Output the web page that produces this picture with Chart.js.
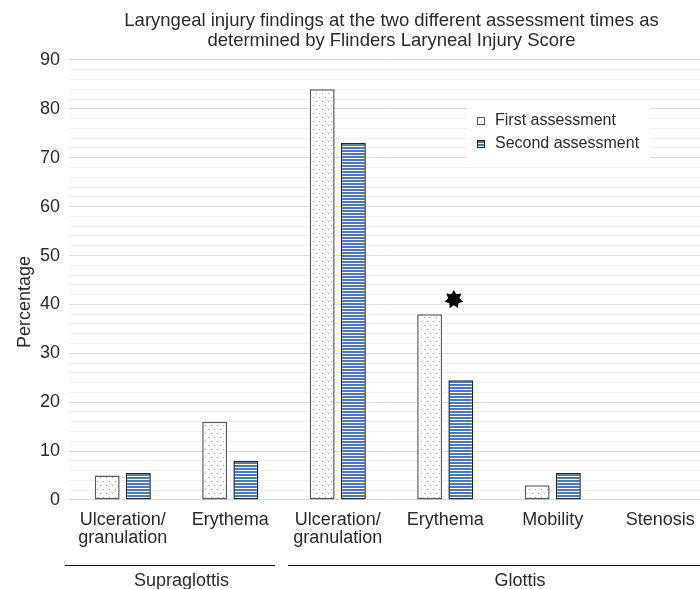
<!DOCTYPE html>
<html lang="en">
<head>
  <meta charset="UTF-8" />
  <title>Laryngeal injury findings</title>
  <script src="https://cdn.jsdelivr.net/npm/chart.js"></script>
  <style>
    html, body { margin: 0; padding: 0; background: #fff; overflow: hidden; }
    #wrap { width: 700px; height: 589px; overflow: hidden; }
    canvas { display: block; }
  </style>
</head>
<body>
  <div id="wrap"><canvas id="chart" width="714" height="589"></canvas></div>

  <script>
    // data
    const categories = [['Ulceration/', 'granulation'], 'Erythema', ['Ulceration/', 'granulation'], 'Erythema', 'Mobility', 'Stenosis'];
    const firstAssessment = [5, 16, 84, 38, 3, 0];
    const secondAssessment = [5.5, 8, 73, 24.5, 5.5, 0];
    const seriesNames = ['First assessment', 'Second assessment'];
    const groupNames = ['Supraglottis', 'Glottis'];
    const groupSpans = [[0, 1], [2, 5]];
    const starMarks = [{ x: 3.08, y: 41 }];   // x = category index (+ fraction)
    const yMax = 90;
    const yMajorStep = 10;
    const yMinorStep = 2;

    const FONT = "'Liberation Sans', Arial, Helvetica, sans-serif";
    const TEXT = '#2b2b2b';

    // fill patterns
    function makeTile(w, h, draw) {
      const c = document.createElement('canvas');
      c.width = w; c.height = h;
      draw(c.getContext('2d'));
      return c;
    }
    const ctx0 = document.createElement('canvas').getContext('2d');
    const dotPattern = ctx0.createPattern(makeTile(6, 8, g => {
      g.fillStyle = '#ffffff'; g.fillRect(0, 0, 6, 8);
      g.fillStyle = '#8aa6dc';
      g.fillRect(1, 1, 1, 1);
      g.fillRect(4, 5, 1, 1);
    }), 'repeat');
    const stripePattern = ctx0.createPattern(makeTile(4, 3, g => {
      g.fillStyle = '#ffffff'; g.fillRect(0, 0, 4, 3);
      g.fillStyle = '#4a76c6'; g.fillRect(0, 0, 4, 2);
    }), 'repeat');

    function drawStar(g, cx, cy) {
      const n = 7, R = 9.5, r = 5.8;
      g.beginPath();
      for (let i = 0; i < n * 2; i++) {
        const rad = i % 2 === 0 ? R : r;
        const a = -Math.PI / 2 + i * Math.PI / n;
        const px = cx + rad * Math.cos(a), py = cy + rad * Math.sin(a);
        i === 0 ? g.moveTo(px, py) : g.lineTo(px, py);
      }
      g.closePath();
      g.fillStyle = '#000';
      g.fill();
    }

    // significance marks, placed through the chart scales
    const starMarkPlugin = {
      id: 'starMarks',
      afterDatasetsDraw(chart) {
        const x = chart.scales.x, y = chart.scales.y;
        const ctx = chart.ctx;
        ctx.save();
        starMarks.forEach(m => {
          const i = Math.floor(m.x);
          const w = x.getPixelForValue(1) - x.getPixelForValue(0);
          drawStar(ctx, x.getPixelForValue(i) + (m.x - i) * w, y.getPixelForValue(m.y));
        });
        ctx.restore();
      }
    };

    // legend inside the plot area
    const innerLegend = {
      id: 'innerLegend',
      afterDatasetsDraw(chart) {
        const { ctx } = chart;
        ctx.save();
        ctx.fillStyle = '#fff';
        ctx.fillRect(467, 106, 183, 56);
        ctx.font = '16px ' + FONT;
        ctx.textBaseline = 'middle';
        const rows = [121, 144];
        chart.data.datasets.forEach((ds, i) => {
          const y = rows[i];
          ctx.fillStyle = ds.backgroundColor;
          ctx.fillRect(477, y - 4, 8, 8);
          ctx.strokeStyle = ds.borderColor;
          ctx.lineWidth = 1;
          ctx.strokeRect(477.5, y - 3.5, 7, 7);
          ctx.fillStyle = TEXT;
          ctx.fillText(ds.label, 495, y);
        });
        ctx.restore();
      }
    };

    // group brackets under the category labels + y title
    const groupAxis = {
      id: 'groupAxis',
      afterDraw(chart) {
        const { ctx } = chart;
        const x = chart.scales.x;
        const w = (x.right - x.left) / categories.length;
        ctx.save();
        ctx.strokeStyle = '#1a1a1a';
        ctx.lineWidth = 1.2;
        ctx.font = '18px ' + FONT;
        ctx.fillStyle = TEXT;
        ctx.textAlign = 'center';
        ctx.textBaseline = 'middle';
        groupSpans.forEach(([a, b], i) => {
          const left = x.getPixelForValue(a) - w / 2 + (i === 0 ? -4 : 4);
          const right = x.getPixelForValue(b) + w / 2 - 9;
          ctx.beginPath();
          ctx.moveTo(left, 565.5);
          ctx.lineTo(right, 565.5);
          ctx.stroke();
          const mid = (x.getPixelForValue(a) + x.getPixelForValue(b)) / 2;
          ctx.fillText(groupNames[i], mid + (i === 0 ? 5 : 21), 581);
        });
        // y axis title
        ctx.translate(25, 302);
        ctx.rotate(-Math.PI / 2);
        ctx.fillText('Percentage', 0, 0);
        ctx.restore();
      }
    };

    new Chart(document.getElementById('chart'), {
      type: 'bar',
      data: {
        labels: categories,
        datasets: [
          {
            label: seriesNames[0],
            data: firstAssessment,
            backgroundColor: dotPattern,
            borderColor: '#5a5a5a',
            borderWidth: c => (c.raw ? 1.5 : 0),
            borderSkipped: false
          },
          {
            label: seriesNames[1],
            data: secondAssessment,
            backgroundColor: stripePattern,
            borderColor: '#1e2533',
            borderWidth: c => (c.raw ? 1.5 : 0),
            borderSkipped: false
          }
        ]
      },
      options: {
        responsive: false,
        animation: false,
        categoryPercentage: 0.58,
        barPercentage: 0.8,
        layout: { padding: { left: 31, right: 0, top: 0, bottom: 39 } },
        plugins: {
          legend: { display: false },
          tooltip: { enabled: false },
          title: {
            display: true,
            fullSize: false,
            text: ['Laryngeal injury findings at the two different assessment times as', 'determined by Flinders Laryneal Injury Score'],
            color: TEXT,
            font: { family: FONT, size: 18.5, weight: 'normal', lineHeight: 1.08 },
            padding: { top: 11, bottom: 9 }
          }
        },
        scales: {
          x: {
            grid: { display: false },
            border: { display: false },
            ticks: {
              color: TEXT,
              font: { family: FONT, size: 18, lineHeight: 1.0 },
              maxRotation: 0,
              autoSkip: false,
              padding: 3
            }
          },
          y: {
            min: 0,
            max: yMax,
            border: { display: false },
            grid: {
              drawTicks: false,
              color: c => (c.tick.value % yMajorStep === 0 ? '#dcdcdc' : '#f0f0f0'),
              lineWidth: 1
            },
            ticks: {
              stepSize: yMinorStep,
              autoSkip: false,
              padding: 9,
              color: TEXT,
              font: { family: FONT, size: 18 },
              callback: v => (v % yMajorStep === 0 ? v : '')
            }
          }
        }
      },
      plugins: [innerLegend, starMarkPlugin, groupAxis]
    });
  </script>
</body>
</html>
